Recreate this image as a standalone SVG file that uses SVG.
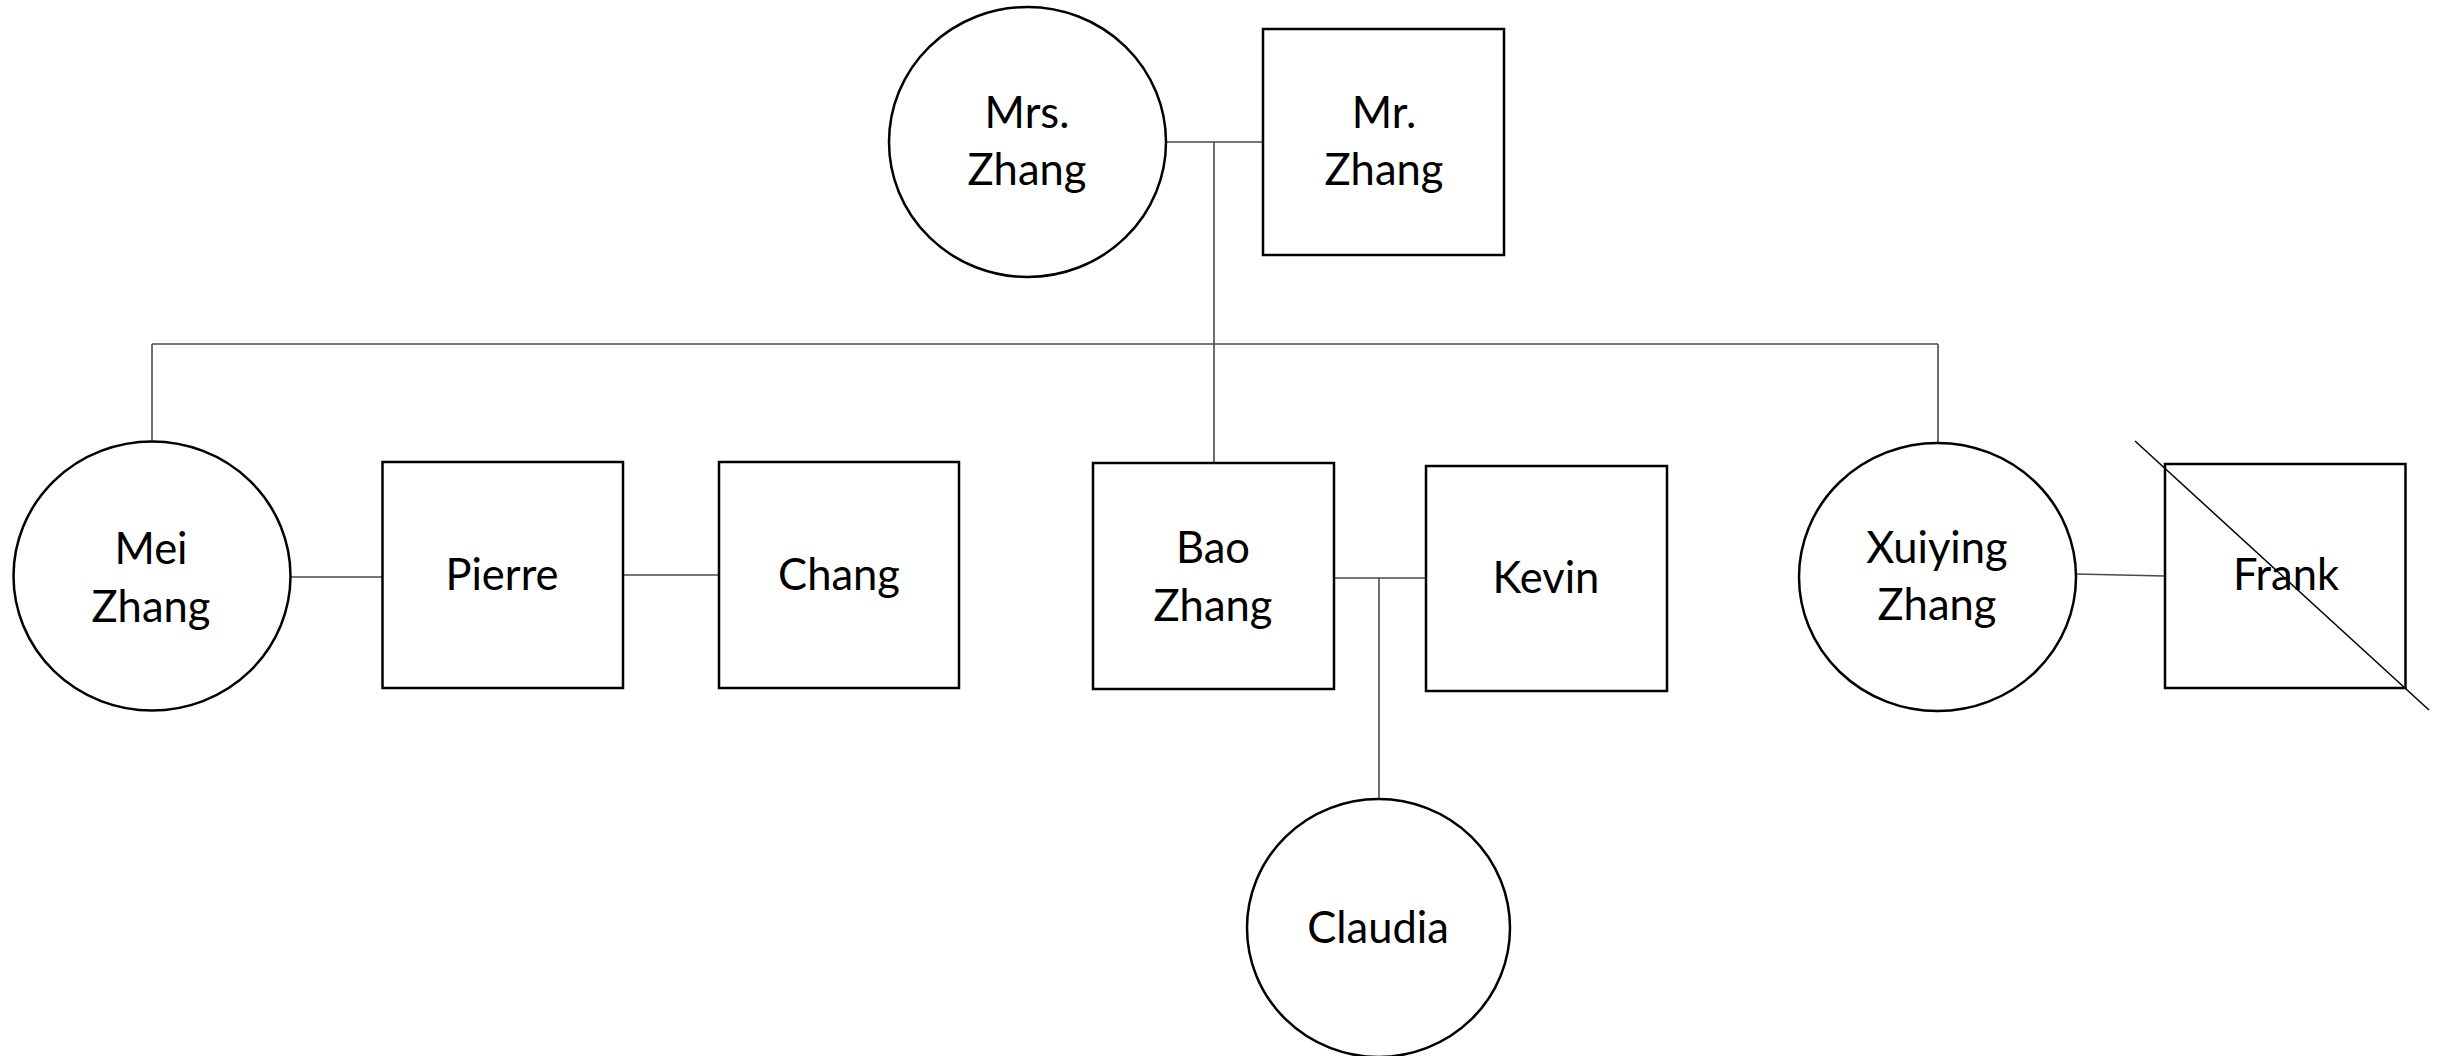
<svg xmlns="http://www.w3.org/2000/svg" width="2445" height="1056" viewBox="0 0 2445 1056">
<style>
.shape{fill:#fff;stroke:#000;stroke-width:2.5}
.conn{fill:none;stroke:#4a4a4a;stroke-width:1.6}
.cross{fill:none;stroke:#000;stroke-width:1.5}
text{font-family:Lato,"Open Sans","Liberation Sans",sans-serif;font-size:43.5px;fill:#000;text-anchor:middle}
</style>
<rect width="2445" height="1056" fill="#fff"/>
<g id="connectors">
<line class="conn" x1="1166" y1="142" x2="1263" y2="142"/>
<line class="conn" x1="1214" y1="142" x2="1214" y2="463"/>
<line class="conn" x1="152" y1="344" x2="1938" y2="344"/>
<line class="conn" x1="152" y1="344" x2="152" y2="442"/>
<line class="conn" x1="1938" y1="344" x2="1938" y2="443"/>
<line class="conn" x1="291" y1="577" x2="384" y2="577"/>
<line class="conn" x1="623" y1="575" x2="719" y2="575"/>
<line class="conn" x1="1331" y1="578" x2="1426" y2="578"/>
<line class="conn" x1="1379" y1="578" x2="1379" y2="799"/>
<line class="conn" x1="2076" y1="574" x2="2165" y2="576"/>
</g>
<g id="mrs-zhang">
<ellipse class="shape" cx="1027.5" cy="142" rx="138.5" ry="135"/>
<text x="1027" y="128">Mrs.</text>
<text x="1027" y="185">Zhang</text>
</g>
<g id="mr-zhang">
<rect class="shape" x="1263" y="29" width="241" height="226"/>
<text x="1384" y="128">Mr.</text>
<text x="1384" y="185">Zhang</text>
</g>
<g id="mei-zhang">
<ellipse class="shape" cx="152" cy="576" rx="138.5" ry="134.5"/>
<text x="151" y="564">Mei</text>
<text x="151" y="622">Zhang</text>
</g>
<g id="pierre">
<rect class="shape" x="382.5" y="462" width="240.5" height="226"/>
<text x="502" y="590">Pierre</text>
</g>
<g id="chang">
<rect class="shape" x="719" y="462" width="240" height="226"/>
<text x="839" y="590">Chang</text>
</g>
<g id="bao-zhang">
<rect class="shape" x="1093" y="463" width="241" height="226"/>
<text x="1213" y="563">Bao</text>
<text x="1213" y="621">Zhang</text>
</g>
<g id="kevin">
<rect class="shape" x="1426" y="466" width="241" height="225"/>
<text x="1546" y="593">Kevin</text>
</g>
<g id="claudia">
<ellipse class="shape" cx="1378.5" cy="928" rx="131.5" ry="129"/>
<text x="1378" y="943">Claudia</text>
</g>
<g id="xuiying-zhang">
<ellipse class="shape" cx="1937.5" cy="577" rx="138.5" ry="134"/>
<text x="1937" y="563">Xuiying</text>
<text x="1937" y="620">Zhang</text>
</g>
<g id="frank">
<rect class="shape" x="2165" y="464" width="240.5" height="224"/>
<text x="2286" y="590">Frank</text>
<line class="cross" x1="2135" y1="441" x2="2429" y2="710"/>
</g>
</svg>
